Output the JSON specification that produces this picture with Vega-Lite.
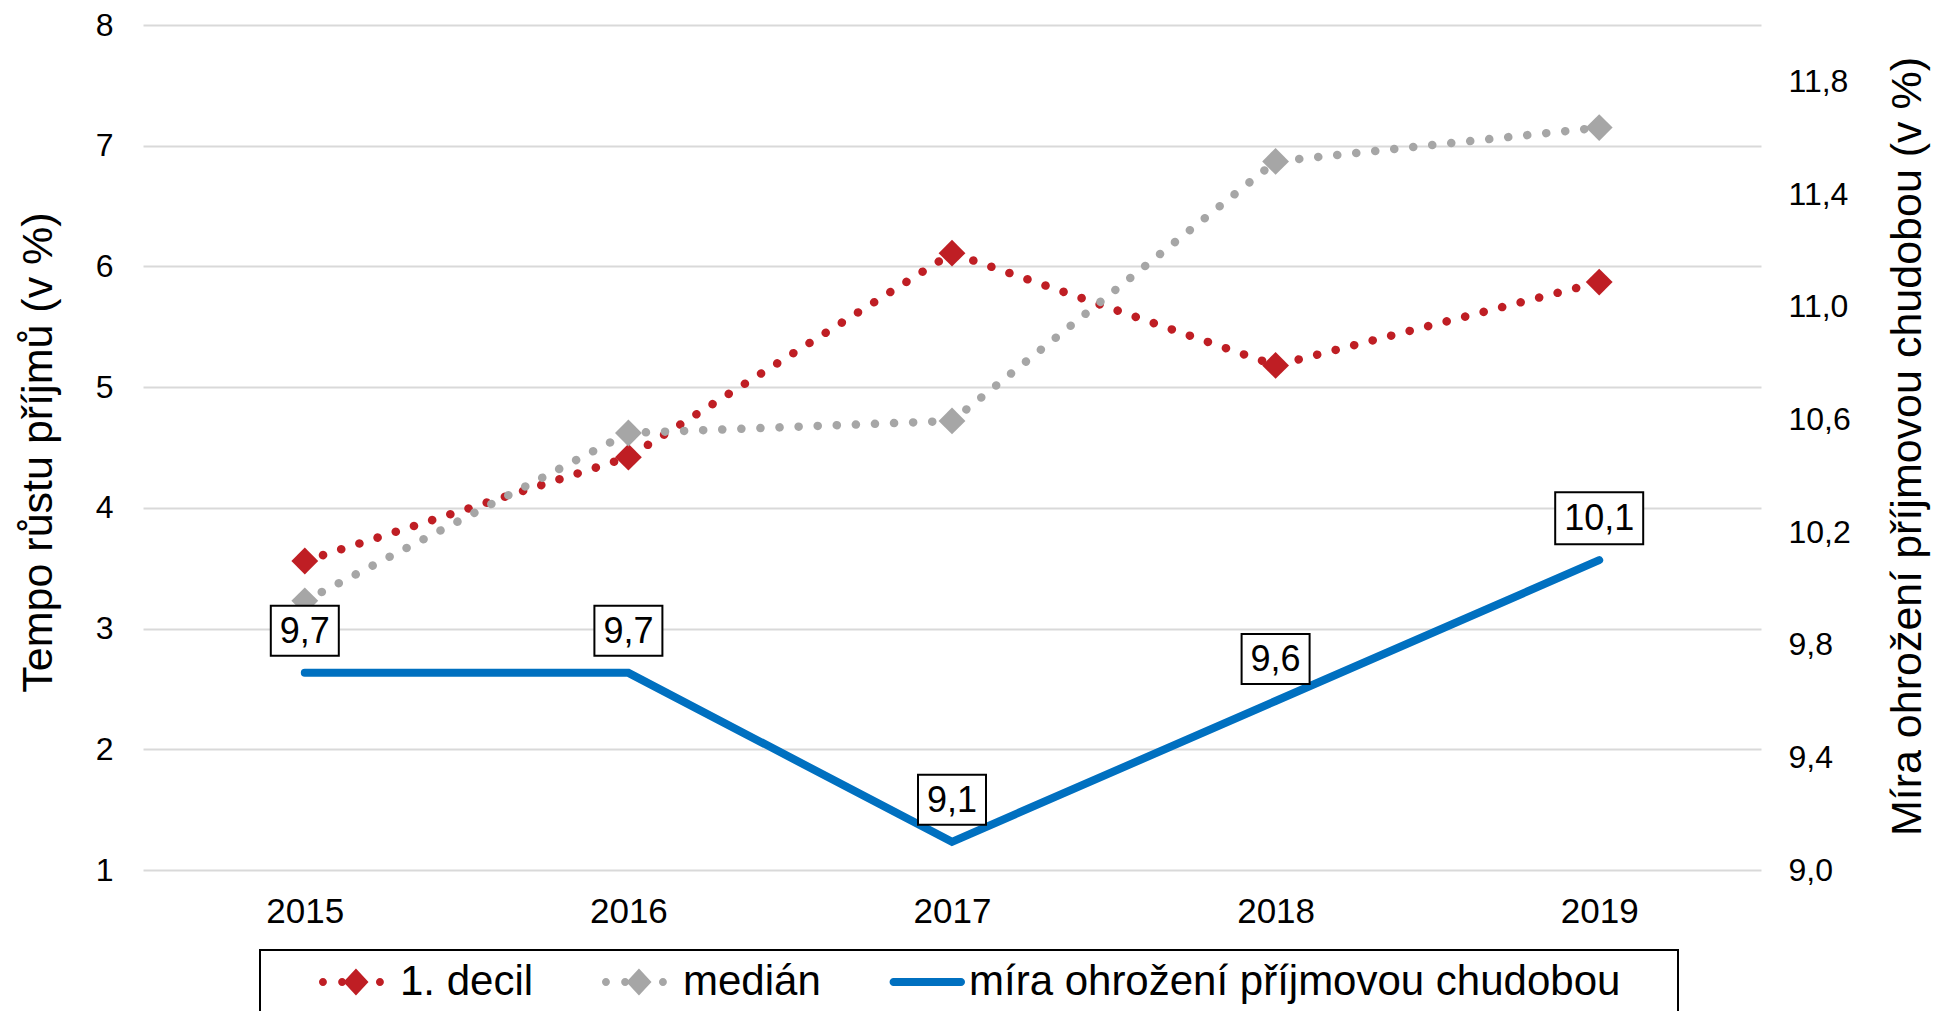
{
  "$schema": "https://vega.github.io/schema/vega-lite/v6.json",
  "width": 1618,
  "height": 845,
  "autosize": {"type": "none"},
  "padding": {"left": 143, "top": 25, "right": 190, "bottom": 141},
  "background": "white",
  "config": {
    "font": "Liberation Sans",
    "view": {"stroke": null},
    "locale": {"number": {"decimal": ",", "thousands": " ", "grouping": [3], "currency": ["", " Kč"]}},
    "axis": {"labelColor": "black", "titleColor": "black", "titleFontWeight": "normal", "labelFont": "Liberation Sans", "titleFont": "Liberation Sans"}
  },
  "data": {
    "values": [
      {"year": "2015", "series": "1. decil", "value": 3.56},
      {"year": "2016", "series": "1. decil", "value": 4.42},
      {"year": "2017", "series": "1. decil", "value": 6.11},
      {"year": "2018", "series": "1. decil", "value": 5.18},
      {"year": "2019", "series": "1. decil", "value": 5.87},
      {"year": "2015", "series": "medián", "value": 3.23},
      {"year": "2016", "series": "medián", "value": 4.62},
      {"year": "2017", "series": "medián", "value": 4.72},
      {"year": "2018", "series": "medián", "value": 6.87},
      {"year": "2019", "series": "medián", "value": 7.15},
      {"year": "2015", "series": "míra ohrožení příjmovou chudobou", "value": 9.7},
      {"year": "2016", "series": "míra ohrožení příjmovou chudobou", "value": 9.7},
      {"year": "2017", "series": "míra ohrožení příjmovou chudobou", "value": 9.1},
      {"year": "2018", "series": "míra ohrožení příjmovou chudobou", "value": 9.6},
      {"year": "2019", "series": "míra ohrožení příjmovou chudobou", "value": 10.1}
    ]
  },
  "encoding": {
    "x": {
      "field": "year", "type": "ordinal",
      "scale": {"type": "point", "padding": 0.5},
      "axis": {"title": null, "labelAngle": 0, "domain": false, "ticks": false, "labelFontSize": 35, "labelPadding": 24}
    }
  },
  "layer": [
    {
      "transform": [{"filter": "datum.series !== 'míra ohrožení příjmovou chudobou'"}],
      "encoding": {
        "y": {
          "field": "value", "type": "quantitative",
          "scale": {"domain": [1, 8], "nice": false, "zero": false},
          "axis": {
            "values": [1, 2, 3, 4, 5, 6, 7, 8],
            "grid": true, "gridColor": "#D9D9D9", "gridWidth": 2,
            "domain": false, "ticks": false,
            "labelFontSize": 32, "labelPadding": 30,
            "title": "Tempo růstu příjmů (v %)", "titleFontSize": 43,
            "titleAngle": 270, "titleX": -92, "titleY": 427,
            "titleBaseline": "alphabetic", "titleAlign": "center"
          }
        },
        "color": {
          "field": "series", "type": "nominal",
          "scale": {
            "domain": ["1. decil", "medián", "míra ohrožení příjmovou chudobou"],
            "range": ["#BF1E24", "#A6A6A6", "#0070C0"]
          },
          "legend": {
            "orient": "none", "legendX": 117, "legendY": 925,
            "direction": "horizontal",
            "title": " ", "titleOrient": "left", "titleFontSize": 10, "titlePadding": 60,
            "padding": 10, "strokeColor": "black",
            "labelFontSize": 42, "labelFont": "Liberation Sans", "labelColor": "black", "labelLimit": 0,
            "labelOffset": 26, "columnPadding": 68,
            "symbolSize": 1936, "symbolStrokeWidth": 0,
            "labelExpr": "length(datum.label) > 20 ? datum.label + '\u00a0\u00a0\u00a0\u00a0\u200b' : datum.label",
            "encode": {
              "legend": {"update": {"strokeWidth": {"value": 2}}},
              "symbols": {
                "update": {
                  "shape": {"signal": "datum.value === 'míra ohrožení příjmovou chudobou' ? 'M-1.25,-0.18L1.82,-0.18A0.18,0.18 0 0,1 1.82,0.18L-1.25,0.18A0.18,0.18 0 0,1 -1.25,-0.18Z' : 'M-1.5,0a0.18,0.18 0 1,1 0.36,0a0.18,0.18 0 1,1 -0.36,0ZM-0.63,0a0.18,0.18 0 1,1 0.36,0a0.18,0.18 0 1,1 -0.36,0ZM1.09,0a0.18,0.18 0 1,1 0.36,0a0.18,0.18 0 1,1 -0.36,0ZM-0.39,0L0.18,-0.61L0.75,0L0.18,0.61Z'"},
                  "fill": {"signal": "datum.value === '1. decil' ? '#BF1E24' : datum.value === 'medián' ? '#A6A6A6' : '#0070C0'"},
                  "stroke": {"value": "transparent"},
                  "strokeWidth": {"value": 0},
                  "opacity": {"value": 1}
                }
              }
            }
          }
        }
      },
      "layer": [
        {"mark": {"type": "line", "strokeWidth": 8.5, "strokeDash": [0.1, 19], "strokeCap": "round"}},
        {"mark": {"type": "point", "shape": "diamond", "filled": true, "size": 720, "opacity": 1}}
      ]
    },
    {
      "transform": [{"filter": "datum.series === 'míra ohrožení příjmovou chudobou'"}],
      "encoding": {
        "y": {
          "field": "value", "type": "quantitative",
          "scale": {"domain": [9, 12], "nice": false, "zero": false},
          "axis": {
            "orient": "right",
            "values": [9, 9.4, 9.8, 10.2, 10.6, 11, 11.4, 11.8],
            "format": ".1f",
            "grid": false, "domain": false, "ticks": false,
            "labelFontSize": 32, "labelPadding": 27,
            "title": "Míra ohrožení příjmovou chudobou (v %)", "titleFontSize": 43,
            "titleAngle": 270, "titleX": 159, "titleY": 421,
            "titleBaseline": "alphabetic", "titleAlign": "center"
          }
        }
      },
      "layer": [
        {
          "mark": {"type": "line", "strokeWidth": 8, "strokeCap": "round", "strokeJoin": "miter"},
          "encoding": {"color": {"field": "series", "type": "nominal"}}
        },
        {
          "transform": [{"filter": "datum.value < 10"}],
          "mark": {"type": "point", "shape": "M-1.36,-1L1.36,-1L1.36,1L-1.36,1Z", "size": 2500, "filled": true, "fill": "white", "stroke": "black", "strokeWidth": 2, "opacity": 1, "yOffset": -42}
        },
        {
          "transform": [{"filter": "datum.value >= 10"}],
          "mark": {"type": "point", "shape": "M-1.76,-1.04L1.76,-1.04L1.76,1.04L-1.76,1.04Z", "size": 2500, "filled": true, "fill": "white", "stroke": "black", "strokeWidth": 2, "opacity": 1, "yOffset": -42}
        },
        {
          "mark": {"type": "text", "fontSize": 36, "font": "Liberation Sans", "color": "black", "baseline": "middle", "align": "center", "yOffset": -41},
          "encoding": {"text": {"field": "value", "type": "quantitative", "format": ".1f"}}
        }
      ]
    }
  ],
  "resolve": {"scale": {"y": "independent"}}
}
